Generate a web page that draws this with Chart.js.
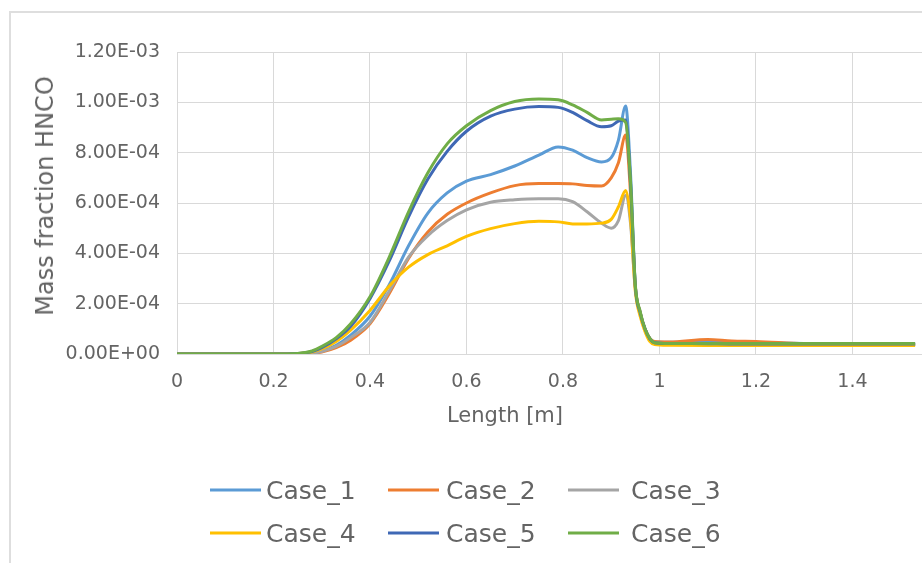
<!DOCTYPE html>
<html>
<head>
<meta charset="utf-8">
<script src="https://cdn.jsdelivr.net/npm/chart.js@4.4.1/dist/chart.umd.min.js"></script>
<style>
  html, body { margin: 0; padding: 0; background: #fff; overflow: hidden; }
  body { width: 922px; height: 563px; position: relative; font-family: 'DejaVu Sans', sans-serif; color: #646464; }
  #frame { position: absolute; left: 9px; top: 11px; width: 1000px; height: 700px; border: 2px solid #dedede; }
  #plot { position: absolute; left: 0; top: 0; }
  .axis-title { position: absolute; white-space: nowrap; color: #646464; }
  #xTitle { font-size: 21px; left: 505px; top: 415px; transform: translate(-50%, -50%); }
  #yTitle { font-size: 24px; left: 45px; top: 196px; transform: translate(-50%, -50%) rotate(-90deg); }
  .legend-item { position: absolute; display: flex; align-items: center; font-size: 25px; color: #646464; transform: translateY(-50%); }
  .legend-item .swatch { display: inline-block; width: 51px; height: 3px; }
</style>
</head>
<body>
<div id="frame"></div>
<canvas id="plot" width="981" height="563" style="width:981px;height:563px"></canvas>
<div id="xTitle" class="axis-title">Length [m]</div>
<div id="yTitle" class="axis-title">Mass fraction HNCO</div>
<div id="legend"></div>
<script>
// 沿长度方向的 HNCO 质量分数，y 值单位 1e-4
const UNIT = 1e-4;
const LENGTH = [0, 0.1, 0.2, 0.25, 0.28, 0.3, 0.33, 0.36, 0.4, 0.44, 0.48, 0.52, 0.56, 0.6, 0.65, 0.7, 0.75, 0.79,
  0.82, 0.85, 0.88, 0.9, 0.915, 0.93, 0.94, 0.95, 0.96, 0.97, 0.98, 0.99, 1.02, 1.1, 1.15, 1.2, 1.3, 1.4, 1.53];

const CASE_NAMES = ['Case_1', 'Case_2', 'Case_3', 'Case_4', 'Case_5', 'Case_6'];
const CASE_COLORS = ['#5B9BD5', '#ED7D31', '#A5A5A5', '#FFC000', '#3F68B5', '#70AD47'];

const CASE_1 = [0, 0, 0, 0.01, 0.05, 0.12, 0.35, 0.75, 1.5, 2.75, 4.3, 5.6, 6.4, 6.87, 7.13, 7.47, 7.9, 8.23,
  8.1, 7.8, 7.63, 7.8, 8.5, 9.85, 7.2, 2.7, 1.65, 1.0, 0.62, 0.48, 0.47, 0.47, 0.46, 0.45, 0.42, 0.4, 0.38];
const CASE_2 = [0, 0, 0, 0.01, 0.03, 0.08, 0.25, 0.55, 1.2, 2.4, 3.8, 4.85, 5.55, 6.0, 6.4, 6.69, 6.77, 6.77,
  6.76, 6.7, 6.68, 7.0, 7.6, 8.7, 6.4, 2.7, 1.65, 1.0, 0.62, 0.5, 0.48, 0.58, 0.52, 0.5, 0.42, 0.4, 0.38];
const CASE_3 = [0, 0, 0, 0.01, 0.03, 0.1, 0.3, 0.65, 1.25, 2.5, 3.85, 4.7, 5.3, 5.73, 6.03, 6.13, 6.17, 6.17,
  6.05, 5.65, 5.2, 5.0, 5.3, 6.3, 5.2, 2.6, 1.6, 1.0, 0.6, 0.45, 0.42, 0.42, 0.42, 0.41, 0.4, 0.4, 0.38];
const CASE_4 = [0, 0, 0, 0.02, 0.08, 0.2, 0.5, 0.95, 1.73, 2.7, 3.45, 3.95, 4.3, 4.67, 4.98, 5.18, 5.27, 5.25,
  5.17, 5.17, 5.2, 5.35, 5.85, 6.5, 5.4, 2.5, 1.5, 0.9, 0.5, 0.38, 0.35, 0.34, 0.34, 0.34, 0.34, 0.34, 0.34];
const CASE_5 = [0, 0, 0, 0.02, 0.1, 0.25, 0.6, 1.1, 2.2, 3.7, 5.45, 6.95, 8.05, 8.85, 9.45, 9.73, 9.83, 9.8,
  9.6, 9.27, 9.03, 9.07, 9.25, 9.3, 6.8, 2.7, 1.65, 1.0, 0.6, 0.45, 0.42, 0.41, 0.4, 0.4, 0.4, 0.4, 0.4];
const CASE_6 = [0, 0, 0, 0.02, 0.12, 0.3, 0.65, 1.2, 2.27, 3.85, 5.65, 7.2, 8.35, 9.07, 9.67, 10.03, 10.13, 10.1,
  9.9, 9.6, 9.3, 9.33, 9.35, 9.2, 6.9, 2.75, 1.7, 1.0, 0.62, 0.45, 0.42, 0.42, 0.42, 0.42, 0.42, 0.42, 0.42];

const CASE_VALUES = [CASE_1, CASE_2, CASE_3, CASE_4, CASE_5, CASE_6];

const X_MIN = 0, X_MAX = 1.6, X_STEP = 0.2;
const Y_MIN = 0, Y_MAX = 1.2e-3, Y_STEP = 2e-4;

const TEXT_COLOR = '#646464';
const GRID_COLOR = '#d9d9d9';

// 1.20E-03 这种 Excel 风格科学计数
function sciLabel(v) {
  const [m, e] = Number(v).toExponential(2).split('e');
  const n = parseInt(e, 10);
  return m + 'E' + (n < 0 ? '-' : '+') + String(Math.abs(n)).padStart(2, '0');
}

Chart.defaults.font.family = "'DejaVu Sans', sans-serif";
Chart.defaults.color = TEXT_COLOR;

const datasets = CASE_NAMES.map((name, i) => ({
  label: name,
  data: LENGTH.map((x, k) => ({ x, y: CASE_VALUES[i][k] * UNIT })),
  borderColor: CASE_COLORS[i],
  backgroundColor: CASE_COLORS[i],
  borderWidth: 3,
  pointRadius: 0,
  cubicInterpolationMode: 'monotone',
  order: CASE_NAMES.length - i   // Case_6 画在最上层
}));

new Chart(document.getElementById('plot').getContext('2d'), {
  type: 'line',
  data: { datasets },
  options: {
    responsive: false,
    animation: false,
    layout: { padding: { top: 52, right: 7, left: 0, bottom: 0 } },
    scales: {
      x: {
        type: 'linear',
        min: X_MIN, max: X_MAX,
        afterFit: s => { s.height = 209; },
        grid: { color: GRID_COLOR, lineWidth: 1, drawTicks: false },
        border: { color: GRID_COLOR, width: 1 },
        ticks: {
          stepSize: X_STEP,
          padding: 17,
          font: { size: 19 },
          color: TEXT_COLOR,
          maxRotation: 0,
          callback: v => String(Number(v.toFixed(1)))
        }
      },
      y: {
        min: Y_MIN, max: Y_MAX,
        afterFit: s => { s.width = 177; },
        grid: { color: GRID_COLOR, lineWidth: 1, drawTicks: false },
        border: { color: GRID_COLOR, width: 1 },
        ticks: {
          stepSize: Y_STEP,
          padding: 17,
          font: { size: 19 },
          color: TEXT_COLOR,
          callback: v => sciLabel(v)
        }
      }
    },
    plugins: {
      legend: { display: false },
      tooltip: { enabled: false }
    }
  }
});

// 图例：两行三列
const LEGEND_COLS = [210, 388, 568];
const LEGEND_GAPS = [5, 7, 12];
const LEGEND_ROWS = [490, 533];
const legendBox = document.getElementById('legend');
CASE_NAMES.forEach((name, i) => {
  const col = i % 3, row = Math.floor(i / 3);
  const item = document.createElement('div');
  item.className = 'legend-item';
  item.style.left = LEGEND_COLS[col] + 'px';
  item.style.top = LEGEND_ROWS[row] + 'px';
  item.innerHTML = `<span class="swatch" style="background:${CASE_COLORS[i]};margin-right:${LEGEND_GAPS[col]}px"></span><span>${name}</span>`;
  legendBox.appendChild(item);
});
</script>
</body>
</html>
